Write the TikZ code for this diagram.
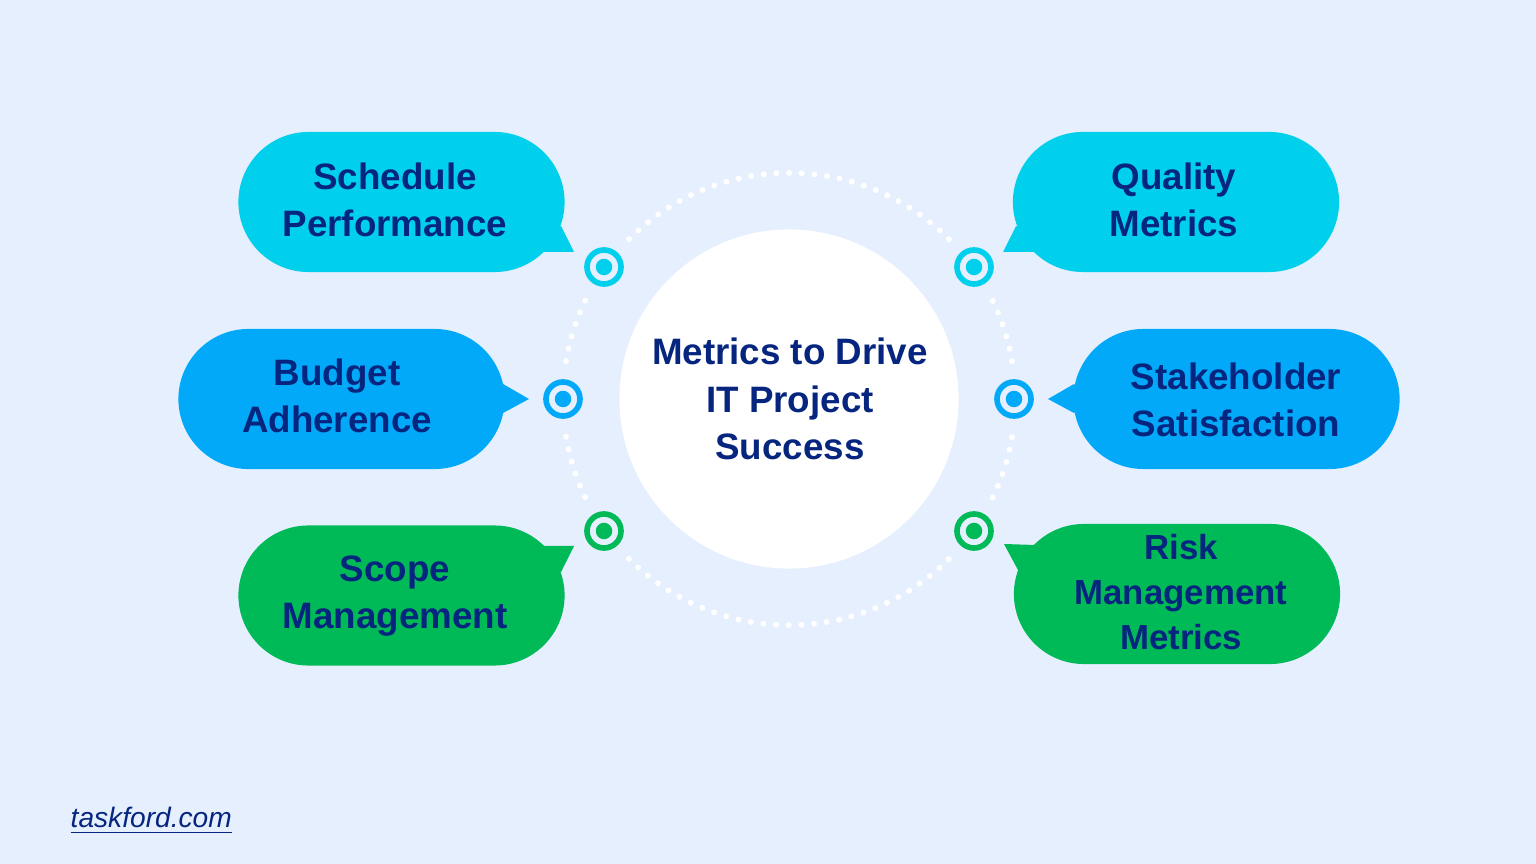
\documentclass[tikz,border=0pt]{standalone}
\usepackage{fontspec}
\setmainfont{Liberation Sans}
\usepackage{xcolor}
\definecolor{pagebg}{HTML}{E5EFFE}
\definecolor{navytext}{HTML}{06257F}
\definecolor{cyanfill}{HTML}{00D0EC}
\definecolor{bluefill}{HTML}{03A9F9}
\definecolor{greenfill}{HTML}{00BA57}
\tikzset{
  bubble/.style={rectangle, rounded corners=0.7cm, minimum width=3.26cm, minimum height=1.4cm, inner sep=0pt},
  bubbletext/.style={align=center, text=navytext, inner sep=0pt, font=\bfseries\fontsize{10.45}{13.4}\selectfont},
  ringnode/.style={circle, draw=#1, fill=pagebg, line width=1.6pt, minimum size=0.34cm, inner sep=0pt,
    preaction={draw=pagebg, line width=7pt}},
  ringdot/.style={circle, fill=#1, minimum size=0.165cm, inner sep=0pt},
}
\begin{document}
\begin{tikzpicture}[x=0.01cm, y=-0.01cm]
  \useasboundingbox (0,0) rectangle (1536,864);
  \fill[pagebg] (0,0) rectangle (1536,864);
  % dotted ring round the middle
  \draw[white, line width=1.7pt, line cap=round, dash pattern=on 0pt off 3.607pt] (789,399) circle [radius=2.26cm];
  \node[circle, fill=white, minimum size=3.39cm, inner sep=0pt] (centre) at (789,399) {};
  \node[bubbletext, font=\bfseries\fontsize{10.45}{13.5}\selectfont] (centretext) at (790,399) {Metrics to Drive\\IT Project\\Success};
  % rings on the dotted circle
  \foreach \name/\px/\py/\col in {ringa/604/267/cyanfill, ringb/974/267/cyanfill, ringc/563/399/bluefill,
      ringd/1014/399/bluefill, ringe/604/531/greenfill, ringf/974/531/greenfill} {
    \node[ringnode=\col] (\name) at (\px,\py) {};
    \node[ringdot=\col] (\name dot) at (\name) {};
  }
  % speech bubbles
  \fill[cyanfill] (561,226) -- (574,252) -- (543,252) -- (530,240) -- cycle;
  \node[bubble, fill=cyanfill] (schedule) at (401.5,202) {};
  \node[bubbletext] (scheduletext) at (395,200) {Schedule\\Performance};
  \fill[cyanfill] (1016,226) -- (1003,252) -- (1034,252) -- (1047,240) -- cycle;
  \node[bubble, fill=cyanfill] (quality) at (1176,202) {};
  \node[bubbletext] (qualitytext) at (1174,200) {Quality\\Metrics};
  \fill[bluefill] (503,384) -- (529,399) -- (503,413) -- (490,399) -- cycle;
  \node[bubble, fill=bluefill] (budget) at (341.5,399) {};
  \node[bubbletext] (budgettext) at (337,395.5) {Budget\\Adherence};
  \fill[bluefill] (1074,384) -- (1048,399) -- (1074,413) -- (1087,399) -- cycle;
  \node[bubble, fill=bluefill] (stakeholder) at (1236.5,399) {};
  \node[bubbletext] (stakeholdertext) at (1236,399.5) {Stakeholder\\Satisfaction};
  \fill[greenfill] (574,546) -- (543,546) -- (530,558) -- (561,572) -- cycle;
  \node[bubble, fill=greenfill] (scope) at (401.5,595.5) {};
  \node[bubbletext] (scopetext) at (395,596.5) {Scope\\Management};
  \fill[greenfill] (1004,544) -- (1035,545) -- (1048,558) -- (1018,570) -- cycle;
  \node[bubble, fill=greenfill] (risk) at (1177,594) {};
  \node[bubbletext, font=\bfseries\fontsize{9.9}{12.7}\selectfont] (risktext) at (1181,592) {Risk\\Management\\Metrics};
  % site name
  \node[anchor=base west, inner sep=0pt, text=navytext, font=\fontsize{8}{9}\selectfont] (site) at (70,827) {\underline{\textit{taskford.com}}};
\end{tikzpicture}
\end{document}
